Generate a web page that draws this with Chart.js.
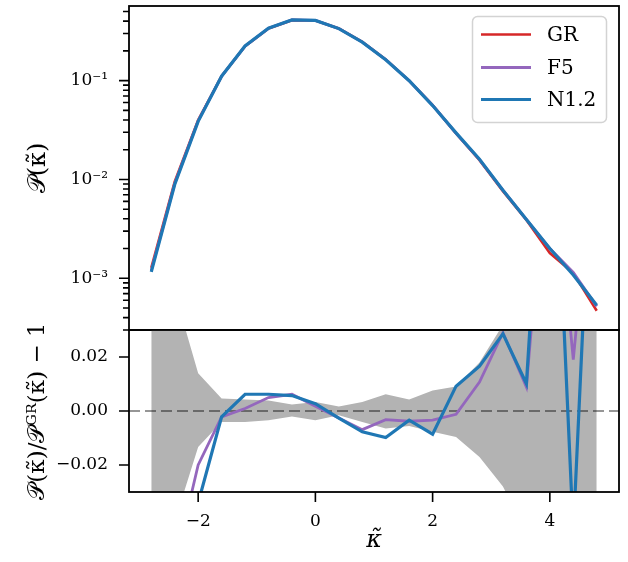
<!DOCTYPE html>
<html><head><meta charset="utf-8">
<script src="https://cdn.jsdelivr.net/npm/chart.js@4"></script>
<style>
html,body{margin:0;padding:0;background:#fff;}
#wrap{position:relative;width:628px;height:562px;overflow:hidden;}
#c1{position:absolute;left:0;top:0;}
#c2{position:absolute;left:0;top:326px;}
</style></head><body>
<div id="wrap"><canvas id="c1" width="628" height="336"></canvas><canvas id="c2" width="628" height="236"></canvas></div>
<script>
// ---- data ----
const kappa = [-2.8,-2.4,-2.0,-1.6,-1.2,-0.8,-0.4,0.0,0.4,0.8,1.2,1.6,2.0,2.4,2.8,3.2,3.6,4.0,4.4,4.8];
const pdfGR  = [1.28e-3,9.5e-3,0.0400,0.111,0.223,0.337,0.409,0.406,0.337,0.247,0.164,0.100,0.0565,0.0293,0.0157,0.0076,0.0039,0.0018,0.00113,4.7e-4];
const pdfF5  = [1.20e-3,9.1e-3,0.0392,0.1108,0.2232,0.3387,0.4115,0.4067,0.3361,0.2453,0.1635,0.0996,0.0563,0.0293,0.0159,0.0078,0.00394,0.0020,0.00115,5.2e-4];
const pdfN12 = [1.16e-3,8.9e-3,0.0387,0.1108,0.2244,0.3391,0.4113,0.4071,0.3361,0.2451,0.1624,0.0997,0.0560,0.0296,0.0160,0.0078,0.00394,0.0020,0.00108,5.35e-4];
const ratioF5  = [-0.08,-0.057,-0.020,-0.0022,0.0009,0.0050,0.0062,0.0018,-0.0026,-0.0069,-0.0032,-0.0038,-0.0034,-0.0012,0.0107,0.0290,0.0089,0.112,0.019,0.11];
const ratioN12 = [-0.094,-0.065,-0.034,-0.0022,0.0062,0.0062,0.0057,0.0027,-0.0026,-0.0077,-0.0098,-0.0034,-0.0086,0.0092,0.0166,0.0286,0.0101,0.147,-0.045,0.142];
const bandUpper = [0.08,0.044,0.014,0.0046,0.0043,0.0039,0.0024,0.0033,0.0017,0.0033,0.0062,0.0043,0.0076,0.0091,0.018,0.032,0.045,0.06,0.07,0.09];
const bandLower = [-0.08,-0.041,-0.0133,-0.0041,-0.0041,-0.0034,-0.0020,-0.0034,-0.0016,-0.0041,-0.0065,-0.0056,-0.0077,-0.0096,-0.017,-0.028,-0.045,-0.06,-0.07,-0.09];
const seriesNames = ['GR','F5','N1.2'];
const xTickValues = [-2,0,2,4];
const logTickValues = [1e-3,1e-2,1e-1];
const ratioTickValues = [-0.02,0,0.02];

// ---- styling ----
const FONT = "'DejaVu Serif'";
Chart.defaults.font.family = FONT;
Chart.defaults.color = '#000';
const COLORS = {GR:'#d62728', F5:'#9467bd', 'N1.2':'#1f77b4'};
const WIDTHS = {GR:2.6, F5:2.8, 'N1.2':3.2};
const AX_LEFT = 129;
const X_MIN = -3.18, X_MAX = 5.18;

const pts = arr => kappa.map((k,i)=>({x:k, y:arr[i]}));
const minus = s => String(s).replace('-', '\u2212');
const SUP = {'-':'\u207B','0':'\u2070','1':'\u00B9','2':'\u00B2','3':'\u00B3','4':'\u2074','5':'\u2075','6':'\u2076','7':'\u2077','8':'\u2078','9':'\u2079'};
const logLabel = v => '10' + String(Math.round(Math.log10(v))).split('').map(c=>SUP[c]).join('');
const fixY = s => { s.width = AX_LEFT; s.paddingTop = 0; s.paddingBottom = 0; };

const frameTicks = {
  id: 'frameTicks',
  afterDatasetsDraw(chart, args, opts) {
    const {ctx, chartArea: a} = chart;
    ctx.save();
    ctx.strokeStyle = '#000';
    ctx.lineWidth = 1.8;
    ctx.strokeRect(a.left, a.top, a.right - a.left, a.bottom - a.top);
    ctx.lineWidth = 1.6;
    ctx.beginPath();
    const y = chart.scales.y;
    y.ticks.forEach(t => { const p = y.getPixelForValue(t.value); ctx.moveTo(a.left - 10, p); ctx.lineTo(a.left, p); });
    if (y.type === 'logarithmic') {
      for (let e = Math.floor(Math.log10(y.min)); e <= Math.ceil(Math.log10(y.max)); e++) {
        for (let m = 2; m <= 9; m++) {
          const v = m * Math.pow(10, e);
          if (v < y.min || v > y.max) continue;
          const p = y.getPixelForValue(v);
          ctx.moveTo(a.left - 6, p); ctx.lineTo(a.left, p);
        }
      }
    }
    if (opts.xTicks) {
      const x = chart.scales.x;
      x.ticks.forEach(t => { const p = x.getPixelForValue(t.value); ctx.moveTo(p, a.bottom); ctx.lineTo(p, a.bottom + 10); });
    }
    ctx.stroke();
    ctx.restore();
  }
};

const legendBox = {
  id: 'legendBox',
  afterDraw(chart) {
    const ctx = chart.ctx;
    ctx.save();
    const bx = 472.5, by = 16.5, bw = 134, bh = 106, r = 5;
    ctx.beginPath();
    ctx.roundRect(bx, by, bw, bh, r);
    ctx.fillStyle = 'rgba(255,255,255,0.8)';
    ctx.fill();
    ctx.strokeStyle = '#d3d3d3';
    ctx.lineWidth = 1.5;
    ctx.stroke();
    const rows = [34.5, 67.5, 99.5];
    ctx.font = '20px ' + FONT;
    ctx.textBaseline = 'middle';
    ctx.textAlign = 'left';
    seriesNames.forEach((name, i) => {
      ctx.strokeStyle = COLORS[name];
      ctx.lineWidth = WIDTHS[name];
      ctx.beginPath();
      ctx.moveTo(481, rows[i]); ctx.lineTo(531, rows[i]);
      ctx.stroke();
      ctx.fillStyle = '#000';
      ctx.fillText(name, 547, rows[i] + 1.5);
    });
    ctx.restore();
  }
};

const zeroLine = {
  id: 'zeroLine',
  afterDatasetDraw(chart, args) {
    if (args.index !== 2) return;
    const {ctx, chartArea: a} = chart;
    const p = chart.scales.y.getPixelForValue(0);
    ctx.save();
    ctx.strokeStyle = 'rgba(0,0,0,0.55)';
    ctx.lineWidth = 1.5;
    ctx.setLineDash([11,5]);
    ctx.beginPath(); ctx.moveTo(a.left, p); ctx.lineTo(a.right, p); ctx.stroke();
    ctx.restore();
  }
};

const lineDs = (name, arr) => ({
  label: name, data: pts(arr), borderColor: COLORS[name], backgroundColor: COLORS[name],
  borderWidth: WIDTHS[name], pointRadius: 0, tension: 0, fill: false
});

// top panel
new Chart(document.getElementById('c1'), {
  type: 'line',
  data: { datasets: [ lineDs('N1.2', pdfN12), lineDs('F5', pdfF5), lineDs('GR', pdfGR) ] },
  options: {
    responsive: false, animation: false, events: [],
    layout: { padding: { left: 0, right: 9, top: 6, bottom: 6 } },
    plugins: { legend: { display: false }, tooltip: { enabled: false }, frameTicks: { xTicks: false } },
    scales: {
      x: { type: 'linear', min: X_MIN, max: X_MAX, display: false },
      y: {
        type: 'logarithmic', min: 3.34e-4, max: 0.569,
        afterBuildTicks: s => { s.ticks = logTickValues.map(v => ({value: v})); },
        afterFit: fixY,
        grid: { display: false, drawTicks: false }, border: { display: false },
        ticks: { padding: 21, font: { size: 17 }, color: '#000', autoSkip: false, callback: v => logLabel(v) },
        title: { display: true, text: '\u{1D4AB}(\u03BA\u0303)', font: { size: 24 }, color: '#000', padding: { top: 24 } }
      }
    }
  },
  plugins: [frameTicks, legendBox]
});

// bottom panel
new Chart(document.getElementById('c2'), {
  type: 'line',
  data: { datasets: [
    lineDs('N1.2', ratioN12),
    lineDs('F5', ratioF5),
    { label: 'band+', data: pts(bandUpper), borderWidth: 0, pointRadius: 0, tension: 0, fill: '+1', backgroundColor: 'rgb(179,179,179)', borderColor: 'rgba(0,0,0,0)' },
    { label: 'band-', data: pts(bandLower), borderWidth: 0, pointRadius: 0, tension: 0, fill: false, borderColor: 'rgba(0,0,0,0)' }
  ] },
  options: {
    responsive: false, animation: false, events: [],
    layout: { padding: { left: 0, right: 9, top: 4, bottom: 0 } },
    plugins: { legend: { display: false }, tooltip: { enabled: false }, frameTicks: { xTicks: true } },
    scales: {
      x: {
        type: 'linear', min: X_MIN, max: X_MAX,
        afterBuildTicks: s => { s.ticks = xTickValues.map(v => ({value: v})); },
        afterFit: s => { s.height = 70; s.paddingLeft = 0; s.paddingRight = 0; },
        grid: { display: false, drawTicks: false }, border: { display: false },
        ticks: { padding: 19, font: { size: 17 }, color: '#000', autoSkip: false, maxRotation: 0, callback: v => minus(v) },
        title: { display: true, text: '\u03BA\u0303', font: { size: 24, style: 'italic' }, color: '#000', padding: { bottom: 7 } }
      },
      y: {
        type: 'linear', min: -0.03, max: 0.03,
        afterBuildTicks: s => { s.ticks = ratioTickValues.map(v => ({value: v})); },
        afterFit: fixY,
        grid: { display: false, drawTicks: false }, border: { display: false },
        ticks: { padding: 21, font: { size: 17 }, color: '#000', autoSkip: false, callback: v => minus(v.toFixed(2)) },
        title: { display: true, text: '\u{1D4AB}(\u03BA\u0303)/\u{1D4AB}\u1D33\u1D3F(\u03BA\u0303) \u2212 1', font: { size: 23 }, color: '#000', padding: { top: 24 } }
      }
    }
  },
  plugins: [frameTicks, zeroLine]
});
</script>
</body></html>
